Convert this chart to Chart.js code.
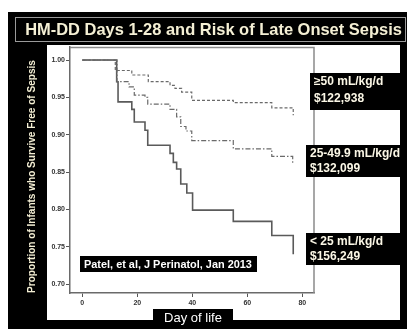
<!DOCTYPE html>
<html><head><meta charset="utf-8">
<script src="https://cdn.jsdelivr.net/npm/chart.js@4.4.0/dist/chart.umd.min.js"></script>
<style>html,body{margin:0;padding:0;background:#fff;overflow:hidden}#wrap{position:relative;width:415px;height:329px}</style>
</head><body><div id="wrap"><canvas id="c" width="415" height="329"></canvas></div>
<script>
const titleText = 'HM-DD Days 1-28 and Risk of Late Onset Sepsis';
const yAxisTitle = 'Proportion of Infants who Survive Free of Sepsis';
const xAxisTitle = 'Day of life';
const citation = 'Patel, et al, J Perinatol, Jan 2013';
const xTicks = [0, 20, 40, 60, 80];
const yTicks = [0.70, 0.75, 0.80, 0.85, 0.90, 0.95, 1.00];
const seriesNames = ['\u226550 mL/kg/d', '25-49.9 mL/kg/d', '< 25 mL/kg/d'];
const seriesCosts = ['$122,938', '$132,099', '$156,249'];

// >=50 mL/kg/d (dashed)
const daysHigh = [0, 12.0, 18.0, 24.0, 31.9, 33.7, 36.1, 39.8, 54.9, 68.9, 76.7];
const survHigh = [1.0, 0.986, 0.980, 0.971, 0.966, 0.962, 0.957, 0.946, 0.943, 0.936, 0.926];
// 25-49.9 mL/kg/d (dash-dot)
const daysMid = [0, 12.6, 17.0, 18.9, 22.8, 23.8, 31.9, 34.3, 35.8, 37.7, 39.8, 54.9, 68.9, 76.5];
const survMid = [1.0, 0.971, 0.964, 0.953, 0.950, 0.941, 0.934, 0.924, 0.911, 0.905, 0.892, 0.881, 0.871, 0.861];
// <25 mL/kg/d (solid)
const daysLow = [0, 12.5, 13.0, 18.0, 18.9, 22.8, 23.8, 31.9, 33.1, 34.3, 35.8, 38.0, 40.1, 54.9, 68.9, 76.7];
const survLow = [1.0, 0.971, 0.944, 0.934, 0.917, 0.906, 0.886, 0.875, 0.863, 0.854, 0.834, 0.822, 0.799, 0.784, 0.765, 0.740];

const toPts = (d, s) => d.map((x, i) => ({x: x, y: s[i]}));
const FONT = '"Liberation Sans", Arial, sans-serif';
const CREAM = '#f4efd4';

function fitFont(ctx, text, width, weight) {
  let size = 20;
  ctx.font = weight + ' ' + size + 'px ' + FONT;
  const w = ctx.measureText(text).width;
  return size * width / w;
}

const decor = {
  id: 'decor',
  beforeDraw(chart) {
    const ctx = chart.ctx;
    ctx.save();
    ctx.fillStyle = '#fff';
    ctx.fillRect(0, 0, 415, 329);
    ctx.fillStyle = '#000';
    ctx.fillRect(8, 12, 399, 317);
    ctx.fillStyle = '#fff';
    ctx.fillRect(47, 45, 353, 275);
    // title box
    ctx.strokeStyle = '#9a9a9a';
    ctx.lineWidth = 1;
    ctx.strokeRect(15.5, 17.5, 390, 24);
    let fs = fitFont(ctx, titleText, 377, 'bold');
    ctx.font = 'bold ' + fs.toFixed(2) + 'px ' + FONT;
    ctx.fillStyle = CREAM;
    ctx.textAlign = 'center';
    ctx.textBaseline = 'middle';
    ctx.fillText(titleText, 213.5, 30);
    // y axis title
    fs = fitFont(ctx, yAxisTitle, 233, 'bold');
    ctx.font = 'bold ' + fs.toFixed(2) + 'px ' + FONT;
    ctx.translate(32, 176.5);
    ctx.rotate(-Math.PI / 2);
    ctx.fillText(yAxisTitle, 0, 0);
    ctx.restore();
  },
  afterDraw(chart) {
    const ctx = chart.ctx;
    const a = chart.chartArea;
    ctx.save();
    // top & right border of plot box
    ctx.strokeStyle = '#8a8a8a';
    ctx.lineWidth = 1.5;
    ctx.beginPath();
    ctx.moveTo(a.left, a.top + 0.5);
    ctx.lineTo(a.right, a.top + 0.5);
    ctx.lineTo(a.right, a.bottom);
    ctx.stroke();
    // x axis title box
    ctx.fillStyle = '#000';
    ctx.fillRect(153, 309, 80, 20);
    ctx.fillStyle = '#fff';
    ctx.font = '13px ' + FONT;
    ctx.textAlign = 'center';
    ctx.textBaseline = 'middle';
    ctx.fillText(xAxisTitle, 193, 318);
    // citation box
    ctx.fillStyle = '#000';
    ctx.fillRect(80, 256, 177, 16);
    ctx.fillStyle = '#fff';
    let fs = fitFont(ctx, citation, 168, 'bold');
    ctx.font = 'bold ' + fs.toFixed(2) + 'px ' + FONT;
    ctx.textAlign = 'left';
    ctx.fillText(citation, 84, 264.5);
    // legend boxes
    const boxes = [
      {x: 310, y: 73, h: 37, t1: 82, t2: 99},
      {x: 306, y: 145, h: 32, t1: 154, t2: 169},
      {x: 306, y: 233, h: 32, t1: 242, t2: 257}
    ];
    boxes.forEach((b, i) => {
      ctx.fillStyle = '#000';
      ctx.fillRect(b.x, b.y, 400 - b.x, b.h);
      ctx.fillStyle = '#fbf7e6';
      ctx.font = 'bold 12px ' + FONT;
      ctx.textAlign = 'left';
      ctx.fillText(seriesNames[i], b.x + 4, b.t1);
      ctx.fillText(seriesCosts[i], b.x + 4, b.t2);
    });
    ctx.restore();
  }
};

new Chart(document.getElementById('c'), {
  type: 'line',
  data: {
    datasets: [
      {label: seriesNames[0], data: toPts(daysHigh, survHigh), stepped: 'before', borderColor: '#6a6a6a', borderWidth: 1.2, borderDash: [3, 2], pointRadius: 0, fill: false},
      {label: seriesNames[1], data: toPts(daysMid, survMid), stepped: 'before', borderColor: '#6a6a6a', borderWidth: 1.2, borderDash: [5, 2, 1.5, 2], pointRadius: 0, fill: false},
      {label: seriesNames[2], data: toPts(daysLow, survLow), stepped: 'before', borderColor: '#5a5a5a', borderWidth: 1.6, pointRadius: 0, fill: false}
    ]
  },
  options: {
    responsive: false,
    animation: false,
    devicePixelRatio: 1,
    layout: {padding: {left: 0, top: 47, right: 101, bottom: 0}},
    plugins: {legend: {display: false}, tooltip: {enabled: false}},
    scales: {
      x: {
        type: 'linear', min: -4.47, max: 84.25,
        afterBuildTicks: s => { s.ticks = xTicks.map(v => ({value: v})); },
        afterFit: s => { s.height = 36; },
        ticks: {font: {family: FONT, size: 7, weight: 'bold'}, color: '#333', padding: 2, maxRotation: 0},
        grid: {drawOnChartArea: false, drawTicks: true, tickLength: 4, color: '#555', lineWidth: 1},
        border: {color: '#6a6a6a', width: 1.5}
      },
      y: {
        type: 'linear', min: 0.688, max: 1.0175,
        afterBuildTicks: s => { s.ticks = yTicks.map(v => ({value: v})); },
        afterFit: s => { s.width = 70; },
        ticks: {font: {family: FONT, size: 7, weight: 'bold'}, color: '#333', padding: 1, callback: v => v.toFixed(2)},
        grid: {drawOnChartArea: false, drawTicks: true, tickLength: 4, color: '#555', lineWidth: 1},
        border: {color: '#6a6a6a', width: 1.5}
      }
    }
  },
  plugins: [decor]
});
</script>
</body></html>
